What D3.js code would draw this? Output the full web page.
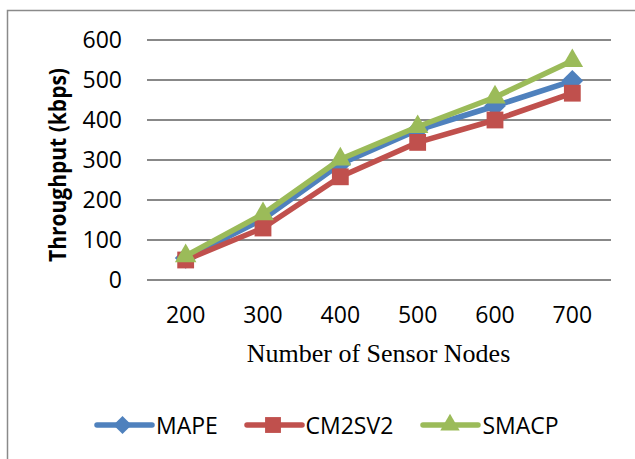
<!DOCTYPE html>
<html><head><meta charset="utf-8">
<script src="https://cdn.jsdelivr.net/npm/d3@7/dist/d3.min.js"></script>
<style>html,body{margin:0;padding:0;background:#fff}svg{display:block}</style>
</head><body>
<script>
const categories = [200, 300, 400, 500, 600, 700];
const mape = [55, 152, 290, 375, 435, 498];
const cm2sv2 = [50, 130, 258, 344, 400, 467];
const smacp = [60, 165, 302, 383, 457, 548];
const yTicks = [0, 100, 200, 300, 400, 500, 600];
const seriesNames = ["MAPE", "CM2SV2", "SMACP"];
const colors = ["#4F81BD", "#C0504D", "#9BBB59"];
const symbols = [d3.symbolDiamond2, d3.symbolSquare2, d3.symbolTriangle2];

const W = 635, H = 459;
const svg = d3.select("body").append("svg").attr("width", W).attr("height", H);

// outer frame (left & top visible)
svg.append("path").attr("d", `M7.5,${H} V10.5 H${W}`).attr("fill","none").attr("stroke","#8a8a8a").attr("stroke-width",1.5);

const x = d3.scalePoint().domain(categories).range([147, 611]).padding(0.5);
const y = d3.scaleLinear().domain([0, 600]).range([280, 40]);

// gridlines
svg.append("g").selectAll("line").data(yTicks).join("line")
  .attr("x1", 147).attr("x2", 611)
  .attr("y1", d => y(d)).attr("y2", d => y(d))
  .attr("stroke", "#888").attr("stroke-width", 2);

// y tick labels
svg.append("g").selectAll("text").data(yTicks).join("text")
  .attr("x", 122).attr("y", d => y(d) + 8)
  .attr("text-anchor", "end")
  .attr("font-family", "Open Sans").attr("font-size", 23).attr("fill", "#000")
  .text(d => d);

// x tick labels
svg.append("g").selectAll("text").data(categories).join("text")
  .attr("x", d => x(d)).attr("y", 323)
  .attr("text-anchor", "middle")
  .attr("font-family", "Open Sans").attr("font-size", 23).attr("fill", "#000")
  .text(d => d);

// axis titles
svg.append("text").attr("x", 378.5).attr("y", 362).attr("text-anchor","middle")
  .attr("font-family","Liberation Serif").attr("font-size",26).attr("fill","#000")
  .text("Number of Sensor Nodes");

svg.append("text").attr("transform","translate(66,165) rotate(-90)")
  .attr("text-anchor","middle")
  .attr("font-family","Open Sans").attr("font-weight","bold").attr("font-size",24).attr("fill","#000")
  .attr("textLength",194).attr("lengthAdjust","spacingAndGlyphs")
  .text("Throughput (kbps)");

// series
const data = [mape, cm2sv2, smacp];
const line = d3.line().x((d,i) => x(categories[i])).y(d => y(d));
const symSizes = [300, 360, 330];
data.forEach((vals, si) => {
  const g = svg.append("g");
  g.append("path").attr("d", line(vals)).attr("fill","none")
    .attr("stroke", colors[si]).attr("stroke-width", 5.5).attr("stroke-linejoin","round");
  g.selectAll("path.m").data(vals).join("path").attr("class","m")
    .attr("transform", (d,i) => `translate(${x(categories[i])},${y(d)})`)
    .attr("d", d3.symbol().type(symbols[si]).size(symSizes[si])())
    .attr("fill", colors[si]);
});

// legend
const legendItems = [
  {lx1: 97, lx2: 152, mx: 122.5, tx: 156},
  {lx1: 247, lx2: 302, mx: 273, tx: 305.5},
  {lx1: 423, lx2: 478, mx: 450, tx: 482.5}
];
const legSizes = [210, 320, 270];
legendItems.forEach((it, si) => {
  const g = svg.append("g");
  g.append("line").attr("x1", it.lx1).attr("x2", it.lx2).attr("y1", 425).attr("y2", 425)
    .attr("stroke", colors[si]).attr("stroke-width", 5.5).attr("stroke-linecap","round");
  g.append("path").attr("transform", `translate(${it.mx},425)`)
    .attr("d", d3.symbol().type(symbols[si]).size(legSizes[si])()).attr("fill", colors[si]);
  g.append("text").attr("x", it.tx).attr("y", 434)
    .attr("font-family","Open Sans").attr("font-size",23).attr("fill","#000")
    .text(seriesNames[si]);
});
</script>
</body></html>
